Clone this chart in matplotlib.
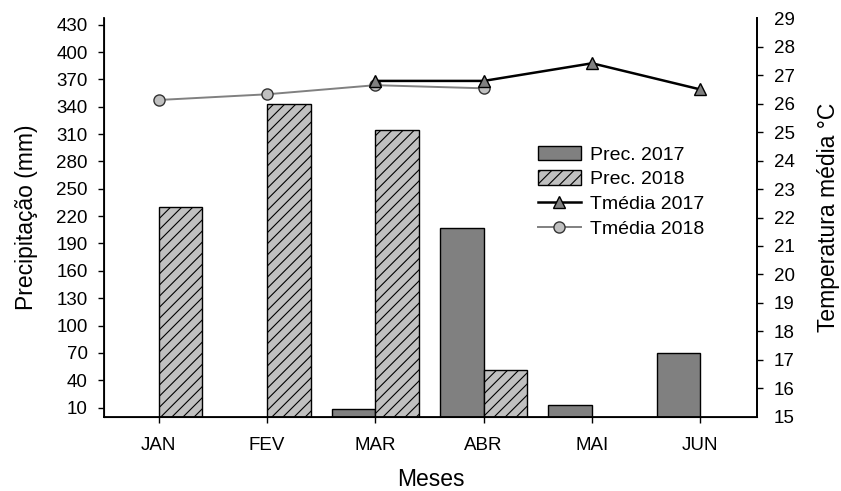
import matplotlib
matplotlib.use("Agg")
import matplotlib.pyplot as plt
import numpy as np
from matplotlib.lines import Line2D
from matplotlib.patches import Patch

plt.rcParams["font.family"] = ["Liberation Sans", "DejaVu Sans"]
plt.rcParams["hatch.linewidth"] = 0.8

# data
months = ["JAN", "FEV", "MAR", "ABR", "MAI", "JUN"]
prec_2017 = [np.nan, np.nan, 8, 207, 13, 70]
prec_2018 = [230, 343, 315, 51, np.nan, np.nan]
tmed_2017 = [np.nan, np.nan, 26.8, 26.8, 27.42, 26.5]
tmed_2018 = [26.13, 26.33, 26.65, 26.54, np.nan, np.nan]

left_ticks = list(range(10, 431, 30))
right_ticks = list(range(15, 30))

x = np.arange(len(months))
w = 0.403

fig = plt.figure(figsize=(8.41, 4.91), dpi=100)
ax = fig.add_axes([0.124, 0.1513, 0.7758, 0.8114])

ax.bar(x - w, prec_2017, width=w, align="edge", color="#808080",
       edgecolor="black", linewidth=1.0)
ax.bar(x, prec_2018, width=w, align="edge", color="#c0c0c0",
       edgecolor="black", linewidth=1.0, hatch="///")

ax.set_xlim(-0.502, 5.52)
ax.set_ylim(0, 437)
ax.set_xticks(x)
ax.set_xticklabels(months)
ax.set_yticks(left_ticks)
ax.tick_params(axis="both", labelsize=13.5, width=1, length=4.5, direction="out")
ax.tick_params(axis="x", pad=10)
ax.tick_params(axis="y", pad=7.5)
for t in (ax.yaxis.get_major_ticks()[0], ax.yaxis.get_major_ticks()[-1]):
    t.tick1line.set_visible(False)
ax.spines["top"].set_visible(False)
for s in ("left", "bottom", "right"):
    ax.spines[s].set_linewidth(1.3)
ax.set_xlabel("Meses", fontsize=16.5, labelpad=10)
ax.set_ylabel("Precipitação (mm)", fontsize=16.5, labelpad=13)

ax2 = ax.twinx()
ax2.plot(x, tmed_2018, color="#808080", linewidth=1.4, marker="o",
         markersize=8, markerfacecolor="#c0c0c0", markeredgecolor="#333333",
         markeredgewidth=1.0)
ax2.plot(x, tmed_2017, color="black", linewidth=1.8, marker="^",
         markersize=9, markerfacecolor="#808080", markeredgecolor="black",
         markeredgewidth=1.0)
ax2.set_ylim(15, 29)
ax2.set_yticks(right_ticks)
ax2.tick_params(axis="y", labelsize=13.5, width=1, length=4.5, direction="out", pad=8)
for t in (ax2.yaxis.get_major_ticks()[0], ax2.yaxis.get_major_ticks()[-1]):
    t.tick2line.set_visible(False)
ax2.spines["top"].set_visible(False)
ax2.spines["right"].set_linewidth(1.3)
ax2.set_ylabel("Temperatura média °C", fontsize=16.5, labelpad=16)

handles = [
    Patch(facecolor="#808080", edgecolor="black", label="Prec. 2017"),
    Patch(facecolor="#c0c0c0", edgecolor="black", hatch="///", label="Prec. 2018"),
    Line2D([], [], color="black", linewidth=1.8, marker="^", markersize=9,
           markerfacecolor="#808080", markeredgecolor="black", label="Tmédia 2017"),
    Line2D([], [], color="#808080", linewidth=1.4, marker="o", markersize=8,
           markerfacecolor="#c0c0c0", markeredgecolor="#333333", label="Tmédia 2018"),
]
ax2.legend(handles=handles, loc="upper left", bbox_to_anchor=(0.619, 0.739),
           bbox_transform=fig.transFigure, frameon=False, fontsize=14,
           handlelength=2.2, handleheight=0.75, handletextpad=0.45, labelspacing=0.35)

fig.savefig("out.png", dpi=100)
